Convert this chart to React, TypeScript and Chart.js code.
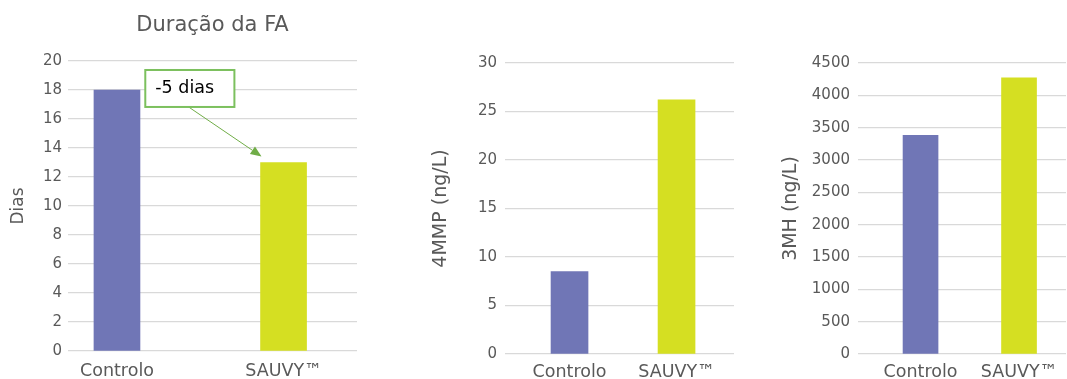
import React, { useEffect, useRef } from "react";
import { Chart, registerables } from "chart.js";

Chart.register(...registerables);

// ---------- data ----------
const categories = ["Controlo", "SAUVY™"];
const barColors = ["#7076B6", "#D5DF22"];

const faDurationDays = [18, 13];
const mmpValues = [8.5, 26.2];
const mhValues = [3380, 4270];

const faTickValues = [0, 2, 4, 6, 8, 10, 12, 14, 16, 18, 20];
const mmpTickValues = [0, 5, 10, 15, 20, 25, 30];
const mhTickValues = [0, 500, 1000, 1500, 2000, 2500, 3000, 3500, 4000, 4500];

const faTitle = "Duração da FA";
const faAxisTitle = "Dias";
const mmpAxisTitle = "4MMP (ng/L)";
const mhAxisTitle = "3MH (ng/L)";
const reductionLabel = "-5 dias";

// ---------- styles ----------
const FONT = '"DejaVu Sans", "Open Sans", sans-serif';
const TEXT_GRAY = "#595959";
const GRID = "#D9D9D9";
const ARROW_GREEN = "#70AD47";
const BOX_GREEN = "#7CC05E";
const H = 379;

// annotation placement (in data units of the first panel)
const reductionBox = { xFrom: 0.17, xTo: 0.705, yFrom: 16.83, yTo: 19.38, arrowFromX: 0.43 };

const reductionPlugin = {
  id: "reductionNote",
  afterDatasetsDraw(chart: any) {
    const { ctx } = chart;
    const x = chart.scales.x;
    const y = chart.scales.y;
    const left = x.getPixelForValue(reductionBox.xFrom);
    const right = x.getPixelForValue(reductionBox.xTo);
    const top = y.getPixelForValue(reductionBox.yTo);
    const bottom = y.getPixelForValue(reductionBox.yFrom);
    const bar = chart.getDatasetMeta(0).data[1];
    const tipX = bar.x - bar.width / 2 + 1;
    const tipY = bar.y - 6;
    const startX = x.getPixelForValue(reductionBox.arrowFromX);
    const startY = bottom;
    const ang = Math.atan2(tipY - startY, tipX - startX);
    const headLen = 11;
    const headW = 4.5;
    const bx = tipX - headLen * Math.cos(ang);
    const by = tipY - headLen * Math.sin(ang);
    ctx.save();
    ctx.strokeStyle = ARROW_GREEN;
    ctx.lineWidth = 1;
    ctx.beginPath();
    ctx.moveTo(startX, startY);
    ctx.lineTo(bx, by);
    ctx.stroke();
    ctx.fillStyle = ARROW_GREEN;
    ctx.beginPath();
    ctx.moveTo(tipX, tipY);
    ctx.lineTo(bx + headW * Math.sin(ang), by - headW * Math.cos(ang));
    ctx.lineTo(bx - headW * Math.sin(ang), by + headW * Math.cos(ang));
    ctx.closePath();
    ctx.fill();
    ctx.fillStyle = "#FFFFFF";
    ctx.fillRect(left, top, right - left, bottom - top);
    ctx.strokeStyle = BOX_GREEN;
    ctx.lineWidth = 2;
    ctx.strokeRect(left, top, right - left, bottom - top);
    ctx.fillStyle = "#000000";
    ctx.font = `17.5px ${FONT}`;
    ctx.textBaseline = "middle";
    ctx.textAlign = "left";
    ctx.fillText(reductionLabel, left + 10, (top + bottom) / 2);
    ctx.restore();
  },
};

type PanelSpec = {
  left: number;
  width: number;
  values: number[];
  yTicks: number[];
  yTitle: string;
  yTitleSize: number;
  yTitlePad: number;
  yAxisWidth: number;
  yTickPad: number;
  xMin: number;
  xMax: number;
  barThickness: number;
  padTop: number;
  padRight: number;
  xAxisHeight: number;
  xTickPad: number;
  title?: string;
  annotate?: boolean;
};

const panels: PanelSpec[] = [
  {
    left: 0, width: 370, values: faDurationDays, yTicks: faTickValues,
    yTitle: faAxisTitle, yTitleSize: 17, yTitlePad: 8.8, yAxisWidth: 68, yTickPad: 6,
    xMin: -0.294, xMax: 1.441, barThickness: 46, padTop: 0, padRight: 13,
    xAxisHeight: 28, xTickPad: 9.5, title: faTitle, annotate: true,
  },
  {
    left: 420, width: 325, values: mmpValues, yTicks: mmpTickValues,
    yTitle: mmpAxisTitle, yTitleSize: 19, yTitlePad: 9.6, yAxisWidth: 85, yTickPad: 8,
    xMin: -0.603, xMax: 1.537, barThickness: 37, padTop: 63, padRight: 11,
    xAxisHeight: 25, xTickPad: 7.5,
  },
  {
    left: 750, width: 317, values: mhValues, yTicks: mhTickValues,
    yTitle: mhAxisTitle, yTitleSize: 19, yTitlePad: 29.6, yAxisWidth: 108, yTickPad: 8,
    xMin: -0.635, xMax: 1.477, barThickness: 35, padTop: 63, padRight: 1,
    xAxisHeight: 25, xTickPad: 7.5,
  },
];

function buildConfig(s: PanelSpec): any {
  return {
    type: "bar",
    data: {
      datasets: [
        {
          data: s.values.map((v, i) => ({ x: i, y: v })),
          backgroundColor: barColors,
          borderWidth: 0,
          barThickness: s.barThickness,
        },
      ],
    },
    options: {
      responsive: false,
      animation: false,
      layout: { padding: { top: s.padTop, right: s.padRight, left: 0, bottom: 0 } },
      plugins: {
        legend: { display: false },
        tooltip: { enabled: false },
        title: {
          display: !!s.title,
          text: s.title || "",
          fullSize: false,
          color: TEXT_GRAY,
          font: { family: FONT, size: 21, weight: "normal" },
          padding: { top: 13.3, bottom: 22.5 },
        },
      },
      scales: {
        x: {
          type: "linear",
          min: s.xMin,
          max: s.xMax,
          offset: false,
          grid: { display: false, drawTicks: false },
          border: { display: false },
          afterBuildTicks: (scale: any) => {
            scale.ticks = categories.map((_, i) => ({ value: i }));
          },
          afterFit: (scale: any) => {
            scale.height = s.xAxisHeight;
          },
          ticks: {
            autoSkip: false,
            maxRotation: 0,
            padding: s.xTickPad,
            color: TEXT_GRAY,
            font: { family: FONT, size: 17.5 },
            callback: (v: any) => categories[Math.round(Number(v))] ?? "",
          },
        },
        y: {
          type: "linear",
          min: s.yTicks[0],
          max: s.yTicks[s.yTicks.length - 1],
          afterBuildTicks: (scale: any) => {
            scale.ticks = s.yTicks.map((v) => ({ value: v }));
          },
          afterFit: (scale: any) => {
            scale.width = s.yAxisWidth;
          },
          grid: { color: GRID, lineWidth: 1.3, drawTicks: false },
          border: { display: false },
          ticks: {
            padding: s.yTickPad,
            color: TEXT_GRAY,
            font: { family: FONT, size: 15 },
            callback: (v: any) => String(v),
          },
          title: {
            display: true,
            text: s.yTitle,
            color: TEXT_GRAY,
            font: { family: FONT, size: s.yTitleSize },
            padding: { top: s.yTitlePad, bottom: 0 },
          },
        },
      },
    },
    plugins: s.annotate ? [reductionPlugin] : [],
  };
}

function Panel({ spec }: { spec: PanelSpec }) {
  const ref = useRef<HTMLCanvasElement>(null);
  useEffect(() => {
    const chart = new Chart(ref.current as HTMLCanvasElement, buildConfig(spec));
    return () => chart.destroy();
  }, [spec]);
  return (
    <canvas
      ref={ref}
      width={spec.width}
      height={H}
      style={{ position: "absolute", left: spec.left, top: 0, width: spec.width, height: H }}
    />
  );
}

export default function App() {
  return (
    <div
      style={{
        position: "fixed",
        left: 0,
        top: 0,
        width: 1067,
        height: H,
        background: "#FFFFFF",
        overflow: "hidden",
      }}
    >
      {panels.map((p, i) => (
        <Panel key={i} spec={p} />
      ))}
    </div>
  );
}
